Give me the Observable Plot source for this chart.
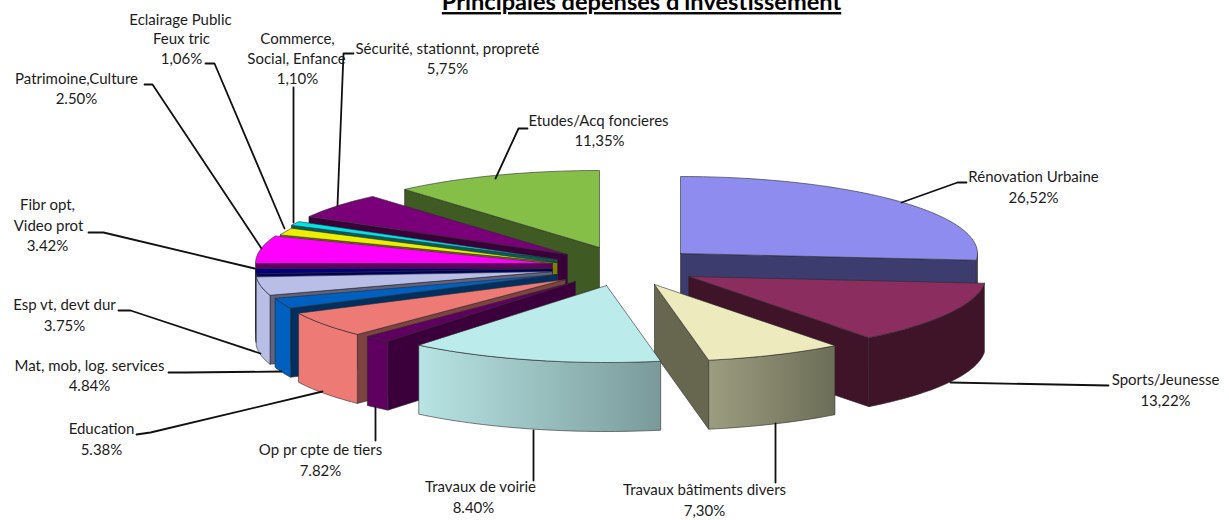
<!DOCTYPE html>
<html>
<head>
<meta charset="utf-8">
<script src="https://cdn.jsdelivr.net/npm/d3@7"></script>
<script src="https://cdn.jsdelivr.net/npm/@observablehq/plot@0.6"></script>
<style>
html,body{margin:0;padding:0;background:#fff;overflow:hidden}
.ttl text{text-decoration:underline}
</style>
</head>
<body>
<div id="chart"></div>
<script>
// Data: printed labels, and the share of the circle each slice visibly occupies
const categories = ["Rénovation Urbaine","Sports/Jeunesse","Travaux bâtiments divers","Travaux de voirie","Op pr cpte de tiers","Education","Mat, mob, log. services","Esp vt, devt dur","Fibr opt, Video prot","Patrimoine,Culture","Eclairage Public Feux tric","Commerce, Social, Enfance","Sécurité, stationnt, propreté","Etudes/Acq foncieres"];
const printedValues = ["26,52%","13,22%","7,30%","8.40%","7.82%","5.38%","4.84%","3.75%","3.42%","2.50%","1,06%","1,10%","5,75%","11,35%"];
const drawnShares = [26.39,13.22,7.47,13.81,1.47,5.42,2.22,3.89,1.11,5.83,1.5,0.86,5.42,11.39];

// Styles
const topColors  = ["#8E8CEE","#8B2D5E","#EDEBBE","#BBEBEB","#5F0060","#EE7A75","#0060C0","#B8BEE6","#00007F","#FF00FF","#EEEE00","#00E5E5","#7A0079","#86BF48"];
const wallColors = ["#3C3C6E","#3F1428","url(#wallBat)","url(#wallVoirie)","#5F0060","#EE7A75","#0060C0","#B8BEE6","#00005F","#5F005F","#7F7F00","#006060","#3A003A","#3F5A22"];
const cutColors  = ["#3C3C6E","#3F1428","#66674E","#7C9C9C","#3B003C","#7E4340","#00305F","#5F6280","#00005F","#5F005F","#7F7F00","#006060","#3A003A","#3F5A22"];

// Layout: the tip of each exploded slice, ellipse radii, extrusion depth, painter's order
const tipX = [680,688,654,606,575,565,557,552,552,552,557,557,567,599];
const tipY = [253,276,284,285,281,279,274,271,268,263,262,259,254,247];
const radiusX = 297, radiusY = 77, depth = 69;
const drawOrder = [13,12,11,10,9,8,7,6,5,4,0,1,2,3];

// Label layout: [text, centre x, middle y]
const labelLines = [
  ["Rénovation Urbaine",1033,177],["26,52%",1033,198],
  ["Sports/Jeunesse",1165,380],["13,22%",1165,401],
  ["Travaux bâtiments divers",704,490],["7,30%",704,511],
  ["Travaux de voirie",480,487],["8.40%",473,508],
  ["Op pr cpte de tiers",320,450],["7.82%",320,471],
  ["Education",101,429],["5.38%",101,450],
  ["Mat, mob, log. services",89,366],["4.84%",89,386],
  ["Esp vt, devt dur",64,305],["3.75%",64,326],
  ["Fibr opt,",47,205],["Video prot",48,226],["3.42%",47,246],
  ["Patrimoine,Culture",76,79],["2.50%",76,99],
  ["Eclairage Public",180,20],["Feux tric",181,39],["1,06%",181,59],
  ["Commerce,",297,39],["Social, Enfance",296,59],["1,10%",297,79],
  ["Sécurité, stationnt, propreté",447,49],["5,75%",447,69],
  ["Etudes/Acq foncieres",598,121],["11,35%",599,141]
];
const leaders = [
  [[901,202],[957,182],[966,182]],
  [[950,382],[1108,385]],
  [[775,423],[775,482]],
  [[533,430],[533,480]],
  [[375,407],[375,440]],
  [[322,391],[150,432],[136,434]],
  [[281,371],[185,372],[168,372]],
  [[260,353],[130,310],[118,310]],
  [[254,268],[103,232],[88,232]],
  [[261,248],[152,84],[144,84]],
  [[284,228],[214,63],[205,63]],
  [[293,222],[293,87]],
  [[337,205],[343,53],[353,53]],
  [[495,178],[518,128],[527,128]]
];

// Angles (clockwise from 12 o'clock) derived from the shares
const total = d3.sum(drawnShares);
const bounds = [0];
drawnShares.forEach((v,i)=>bounds.push(bounds[i]+v/total*360));
const rad = d=>d*Math.PI/180;
const rim = (i,a,dz=0)=>[tipX[i]+radiusX*Math.sin(rad(a)), tipY[i]-radiusY*Math.cos(rad(a))+dz];
const arc = (i,a0,a1,dz=0)=>{
  const n=Math.max(2,Math.ceil(Math.abs(a1-a0)/1.5)), out=[];
  for(let k=0;k<=n;k++) out.push(rim(i,a0+(a1-a0)*k/n,dz));
  return out;
};
const closed = pts=>[...pts,pts[0]];
const poly = (pts,fill,stroke="#2b2b2b",w=0.6)=>Plot.line(closed(pts),{x:d=>d[0],y:d=>d[1],fill,stroke,strokeWidth:w,curve:"linear"});

const marks = [];
// gradient definitions for the two shaded outer walls
marks.push(()=>{
  const defs=d3.create("svg:defs");
  const grad=(id,a,b)=>{
    const g=defs.append("linearGradient").attr("id",id);
    g.append("stop").attr("offset","0").attr("stop-color",a);
    g.append("stop").attr("offset","1").attr("stop-color",b);
  };
  grad("wallBat","#9C9D80","#6C6D56");
  grad("wallVoirie","#B8E4E4","#7A9A9A");
  return defs.node();
});

for(const i of drawOrder){
  const a0=bounds[i], a1=bounds[i+1], tip=[tipX[i],tipY[i]];
  const faceAt=a=>{
    const r=rim(i,a), rb=rim(i,a,depth);
    return poly([tip,r,rb,[tip[0],tip[1]+depth]],cutColors[i]);
  };
  if(a0>=180) marks.push(faceAt(a0));
  if(a1<=180) marks.push(faceAt(a1));
  const f0=Math.max(a0,90), f1=Math.min(a1,270);
  if(f1>f0) marks.push(poly([...arc(i,f0,f1),...arc(i,f1,f0,depth)],wallColors[i]));
  marks.push(poly([tip,...arc(i,a0,a1)],topColors[i]));
}

for(const l of leaders){
  marks.push(Plot.line(l,{x:d=>d[0],y:d=>d[1],stroke:"#111",strokeWidth:1.8,curve:"linear"}));
}
marks.push(Plot.text(labelLines,{x:d=>d[1],y:d=>d[2],text:d=>d[0],fill:"#1c1c1c",fontSize:15,fontFamily:"Lato",textAnchor:"middle",lineAnchor:"middle"}));
marks.push(Plot.text(["Principales dépenses d'investissement"],{x:()=>641,y:()=>2,text:d=>d,fill:"#000",fontSize:23.6,fontWeight:700,fontFamily:"Lato",textAnchor:"middle",lineAnchor:"middle",className:"ttl"}));

const chart=Plot.plot({
  width:1229,height:520,margin:0,
  style:{background:"#fff",overflow:"hidden"},
  x:{domain:[0,1229],range:[0,1229],axis:null},
  y:{domain:[0,520],range:[0,520],axis:null},
  marks
});
document.getElementById("chart").append(chart);
</script>
</body>
</html>
